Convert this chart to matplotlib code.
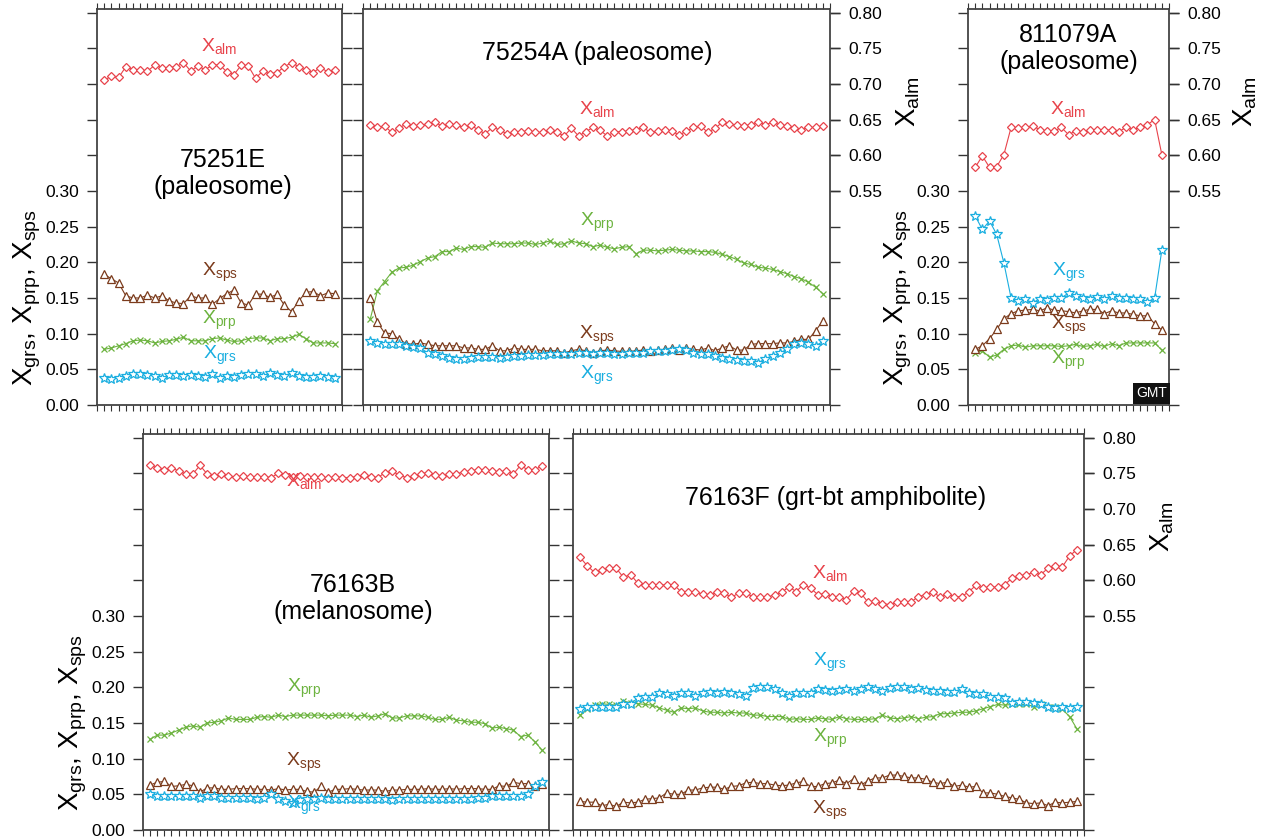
import matplotlib
matplotlib.use('Agg')
from matplotlib import pyplot as plt
from matplotlib import transforms

plt.rcParams['font.family'] = ['Liberation Sans', 'DejaVu Sans']
plt.rcParams['mathtext.fontset'] = 'custom'
plt.rcParams['mathtext.rm'] = 'Liberation Sans'
plt.rcParams['mathtext.it'] = 'Liberation Sans'

C_ALM = '#e8434b'
C_PRP = '#6cb33f'
C_SPS = '#7b3b1c'
C_GRS = '#19aee0'

# 75251E (paleosome)
p1_alm = [0.705, 0.711, 0.709, 0.724, 0.720, 0.719, 0.718, 0.726, 0.723, 0.723, 0.724, 0.730, 0.718,
          0.725, 0.720, 0.726, 0.727, 0.717, 0.713, 0.726, 0.725, 0.708, 0.718, 0.714, 0.716, 0.724,
          0.730, 0.724, 0.719, 0.716, 0.723, 0.717, 0.720]
p1_sps = [0.183, 0.177, 0.171, 0.153, 0.150, 0.150, 0.154, 0.150, 0.153, 0.146, 0.143, 0.142, 0.153,
          0.150, 0.150, 0.141, 0.149, 0.156, 0.161, 0.143, 0.140, 0.156, 0.155, 0.151, 0.155, 0.140,
          0.131, 0.146, 0.158, 0.159, 0.153, 0.157, 0.156]
p1_prp = [0.078, 0.080, 0.083, 0.086, 0.090, 0.091, 0.090, 0.087, 0.089, 0.090, 0.092, 0.095, 0.090,
          0.090, 0.090, 0.093, 0.094, 0.091, 0.089, 0.090, 0.093, 0.094, 0.094, 0.090, 0.093, 0.093,
          0.095, 0.099, 0.093, 0.087, 0.087, 0.087, 0.086]
p1_grs = [0.038, 0.036, 0.038, 0.041, 0.044, 0.043, 0.042, 0.041, 0.038, 0.042, 0.042, 0.041, 0.042,
          0.041, 0.039, 0.043, 0.038, 0.041, 0.039, 0.042, 0.043, 0.044, 0.041, 0.045, 0.042, 0.041,
          0.045, 0.041, 0.039, 0.039, 0.041, 0.039, 0.038]

# 75254A (paleosome)
p2_alm = [0.643, 0.639, 0.641, 0.632, 0.638, 0.644, 0.641, 0.642, 0.644, 0.646, 0.641, 0.644, 0.642,
          0.639, 0.642, 0.636, 0.630, 0.639, 0.636, 0.630, 0.633, 0.633, 0.634, 0.632, 0.632, 0.636,
          0.632, 0.627, 0.638, 0.627, 0.633, 0.639, 0.635, 0.627, 0.633, 0.633, 0.634, 0.636, 0.639,
          0.632, 0.634, 0.635, 0.634, 0.628, 0.634, 0.639, 0.641, 0.632, 0.638, 0.646, 0.644, 0.642,
          0.641, 0.643, 0.647, 0.643, 0.646, 0.643, 0.641, 0.638, 0.636, 0.639, 0.639, 0.641]
p2_prp = [0.120, 0.160, 0.173, 0.186, 0.192, 0.193, 0.196, 0.201, 0.206, 0.208, 0.215, 0.215, 0.220,
          0.218, 0.222, 0.222, 0.221, 0.227, 0.226, 0.226, 0.226, 0.227, 0.227, 0.225, 0.227, 0.230,
          0.225, 0.226, 0.230, 0.227, 0.226, 0.222, 0.224, 0.221, 0.219, 0.221, 0.222, 0.212, 0.217,
          0.217, 0.216, 0.217, 0.218, 0.217, 0.216, 0.216, 0.215, 0.215, 0.214, 0.211, 0.208, 0.204,
          0.199, 0.197, 0.193, 0.192, 0.190, 0.187, 0.184, 0.180, 0.177, 0.172, 0.165, 0.156]
p2_sps = [0.150, 0.116, 0.101, 0.100, 0.092, 0.086, 0.085, 0.087, 0.085, 0.083, 0.083, 0.083, 0.083,
          0.080, 0.080, 0.078, 0.078, 0.083, 0.076, 0.076, 0.080, 0.078, 0.078, 0.078, 0.076, 0.076,
          0.076, 0.073, 0.076, 0.078, 0.076, 0.073, 0.076, 0.077, 0.076, 0.075, 0.075, 0.076, 0.077,
          0.076, 0.077, 0.078, 0.080, 0.077, 0.080, 0.078, 0.077, 0.080, 0.076, 0.080, 0.083, 0.077,
          0.077, 0.085, 0.086, 0.086, 0.086, 0.087, 0.087, 0.089, 0.092, 0.092, 0.104, 0.118]
p2_grs = [0.089, 0.087, 0.086, 0.085, 0.085, 0.083, 0.081, 0.080, 0.073, 0.071, 0.069, 0.066, 0.064,
          0.065, 0.066, 0.067, 0.067, 0.067, 0.066, 0.067, 0.069, 0.069, 0.070, 0.070, 0.070, 0.071,
          0.071, 0.072, 0.072, 0.073, 0.073, 0.072, 0.073, 0.073, 0.072, 0.072, 0.073, 0.073, 0.073,
          0.076, 0.076, 0.076, 0.077, 0.078, 0.077, 0.073, 0.071, 0.071, 0.069, 0.066, 0.065, 0.063,
          0.062, 0.061, 0.059, 0.065, 0.069, 0.073, 0.078, 0.085, 0.087, 0.085, 0.083, 0.089]

# 811079A (paleosome)
p3_alm = [0.583, 0.599, 0.583, 0.584, 0.601, 0.639, 0.638, 0.639, 0.641, 0.636, 0.634, 0.634, 0.639,
          0.629, 0.634, 0.633, 0.636, 0.635, 0.636, 0.635, 0.633, 0.639, 0.636, 0.639, 0.643, 0.650,
          0.601]
p3_grs = [0.265, 0.246, 0.258, 0.239, 0.199, 0.150, 0.146, 0.148, 0.143, 0.149, 0.147, 0.150, 0.150,
          0.157, 0.153, 0.150, 0.149, 0.151, 0.149, 0.153, 0.150, 0.150, 0.149, 0.148, 0.144, 0.150,
          0.217]
p3_sps = [0.078, 0.083, 0.093, 0.106, 0.121, 0.128, 0.132, 0.133, 0.134, 0.132, 0.136, 0.133, 0.132,
          0.131, 0.129, 0.132, 0.134, 0.134, 0.128, 0.132, 0.129, 0.129, 0.127, 0.125, 0.125, 0.114,
          0.105]
p3_prp = [0.073, 0.076, 0.067, 0.070, 0.078, 0.083, 0.084, 0.081, 0.083, 0.083, 0.083, 0.083, 0.082,
          0.083, 0.085, 0.082, 0.083, 0.085, 0.082, 0.086, 0.083, 0.087, 0.087, 0.087, 0.087, 0.087,
          0.077]

# 76163B (melanosome)
p4_alm = [0.762, 0.757, 0.755, 0.758, 0.753, 0.749, 0.749, 0.761, 0.749, 0.746, 0.749, 0.746, 0.745,
          0.746, 0.745, 0.745, 0.745, 0.744, 0.750, 0.748, 0.745, 0.746, 0.745, 0.745, 0.745, 0.743,
          0.745, 0.744, 0.744, 0.745, 0.748, 0.745, 0.744, 0.751, 0.753, 0.747, 0.744, 0.746, 0.749,
          0.751, 0.748, 0.746, 0.749, 0.749, 0.752, 0.753, 0.755, 0.755, 0.753, 0.752, 0.753, 0.749,
          0.761, 0.755, 0.755, 0.760]
p4_prp = [0.127, 0.133, 0.133, 0.136, 0.140, 0.144, 0.146, 0.144, 0.150, 0.151, 0.153, 0.157, 0.155,
          0.155, 0.155, 0.158, 0.159, 0.158, 0.161, 0.159, 0.161, 0.161, 0.161, 0.161, 0.161, 0.160,
          0.161, 0.161, 0.161, 0.159, 0.161, 0.158, 0.160, 0.163, 0.157, 0.157, 0.160, 0.160, 0.160,
          0.158, 0.155, 0.155, 0.158, 0.154, 0.153, 0.151, 0.151, 0.149, 0.143, 0.144, 0.142, 0.140,
          0.131, 0.133, 0.124, 0.112]
p4_sps = [0.063, 0.067, 0.068, 0.061, 0.062, 0.064, 0.062, 0.053, 0.059, 0.059, 0.057, 0.057, 0.058,
          0.058, 0.058, 0.057, 0.057, 0.056, 0.058, 0.056, 0.057, 0.057, 0.054, 0.053, 0.061, 0.053,
          0.057, 0.057, 0.058, 0.057, 0.056, 0.056, 0.056, 0.054, 0.056, 0.056, 0.057, 0.057, 0.057,
          0.058, 0.057, 0.057, 0.058, 0.057, 0.058, 0.058, 0.058, 0.057, 0.057, 0.062, 0.061, 0.067,
          0.065, 0.065, 0.062, 0.064]
p4_grs = [0.050, 0.048, 0.048, 0.047, 0.047, 0.047, 0.047, 0.045, 0.048, 0.047, 0.045, 0.045, 0.045,
          0.045, 0.045, 0.043, 0.045, 0.050, 0.043, 0.040, 0.038, 0.042, 0.044, 0.044, 0.045, 0.044,
          0.043, 0.044, 0.043, 0.044, 0.043, 0.043, 0.044, 0.043, 0.042, 0.043, 0.044, 0.044, 0.043,
          0.043, 0.043, 0.043, 0.044, 0.043, 0.044, 0.044, 0.045, 0.045, 0.047, 0.047, 0.047, 0.047,
          0.048, 0.050, 0.061, 0.067]

# 76163F (grt-bt amphibolite)
p5_alm = [0.632, 0.620, 0.611, 0.614, 0.617, 0.617, 0.604, 0.608, 0.596, 0.593, 0.594, 0.594, 0.593,
          0.594, 0.584, 0.583, 0.583, 0.581, 0.579, 0.583, 0.582, 0.576, 0.582, 0.582, 0.577, 0.577,
          0.576, 0.580, 0.583, 0.591, 0.584, 0.594, 0.589, 0.580, 0.581, 0.577, 0.577, 0.573, 0.585,
          0.582, 0.569, 0.571, 0.567, 0.566, 0.569, 0.570, 0.570, 0.577, 0.580, 0.583, 0.577, 0.581,
          0.577, 0.577, 0.584, 0.593, 0.589, 0.591, 0.590, 0.594, 0.603, 0.606, 0.608, 0.611, 0.608,
          0.617, 0.620, 0.619, 0.634, 0.643]
p5_grs = [0.170, 0.172, 0.173, 0.173, 0.172, 0.172, 0.176, 0.177, 0.185, 0.187, 0.186, 0.192, 0.190,
          0.188, 0.192, 0.192, 0.188, 0.192, 0.193, 0.192, 0.193, 0.192, 0.190, 0.188, 0.199, 0.200,
          0.200, 0.198, 0.192, 0.188, 0.192, 0.192, 0.192, 0.198, 0.196, 0.195, 0.196, 0.198, 0.195,
          0.198, 0.200, 0.198, 0.195, 0.199, 0.200, 0.200, 0.198, 0.199, 0.196, 0.195, 0.195, 0.193,
          0.194, 0.198, 0.192, 0.190, 0.191, 0.187, 0.187, 0.185, 0.178, 0.179, 0.179, 0.178, 0.176,
          0.172, 0.171, 0.172, 0.171, 0.172]
p5_prp = [0.161, 0.170, 0.175, 0.177, 0.176, 0.175, 0.181, 0.178, 0.177, 0.176, 0.175, 0.171, 0.168,
          0.165, 0.171, 0.170, 0.171, 0.167, 0.165, 0.165, 0.164, 0.165, 0.164, 0.164, 0.161, 0.161,
          0.159, 0.159, 0.159, 0.155, 0.156, 0.155, 0.155, 0.157, 0.156, 0.155, 0.159, 0.156, 0.155,
          0.155, 0.155, 0.156, 0.161, 0.157, 0.156, 0.157, 0.159, 0.156, 0.158, 0.159, 0.163, 0.163,
          0.164, 0.165, 0.165, 0.167, 0.170, 0.173, 0.176, 0.175, 0.176, 0.176, 0.176, 0.173, 0.177,
          0.173, 0.172, 0.169, 0.159, 0.142]
p5_sps = [0.040, 0.039, 0.039, 0.034, 0.036, 0.033, 0.039, 0.038, 0.039, 0.043, 0.044, 0.045, 0.052,
          0.050, 0.050, 0.056, 0.056, 0.059, 0.060, 0.060, 0.057, 0.061, 0.062, 0.066, 0.067, 0.065,
          0.065, 0.063, 0.062, 0.063, 0.066, 0.068, 0.061, 0.061, 0.065, 0.066, 0.070, 0.065, 0.072,
          0.063, 0.069, 0.073, 0.073, 0.077, 0.077, 0.075, 0.073, 0.073, 0.071, 0.067, 0.065, 0.067,
          0.061, 0.063, 0.060, 0.061, 0.052, 0.052, 0.050, 0.047, 0.045, 0.043, 0.038, 0.037, 0.038,
          0.034, 0.039, 0.038, 0.039, 0.040]

ALM_OFFSET = 0.25  # right axis (X_alm) is the left axis shifted by 0.25
YMAX = 0.555

fig = plt.figure(figsize=(12.71, 8.39), dpi=100)

W, H = 1271.0, 839.0


def make_ax(x0, x1, y0, y1):
    return fig.add_axes([x0 / W, 1 - y1 / H, (x1 - x0) / W, (y1 - y0) / H])


def style_ax(ax, n, left_labels, right_labels):
    ax.set_xlim(0, n + 1)
    ax.set_ylim(0, YMAX)
    ax.set_xticks(range(0, n + 2))
    ax.set_yticks([i * 0.05 for i in range(12)])
    ax.tick_params(axis='x', which='both', direction='out', length=4, width=0.8,
                   top=True, bottom=True, labelbottom=False, labeltop=False, color='#333333')
    ax.tick_params(axis='y', direction='out', length=7, width=1.0, left=True, right=True,
                   labelleft=False, labelright=False, color='#333333', labelsize=12.5, pad=6)
    for s in ax.spines.values():
        s.set_linewidth(1.3)
        s.set_color('#444444')
    if left_labels:
        ax.set_yticklabels(['%.2f' % (i * 0.05) if i <= 6 else '' for i in range(12)])
        ax.tick_params(axis='y', labelleft=True)
    if right_labels:
        sec = ax.secondary_yaxis('right', functions=(lambda v: v + ALM_OFFSET, lambda v: v - ALM_OFFSET))
        sec.set_yticks([0.55 + 0.05 * i for i in range(6)])
        sec.set_yticklabels(['%.2f' % (0.55 + 0.05 * i) for i in range(6)])
        sec.tick_params(direction='out', length=7, width=1.0, labelsize=12.5, pad=6, color='#333333')
        sec.spines['right'].set_visible(False)


def draw_series(ax, alm, prp, sps, grs):
    ax.plot(range(1, len(alm) + 1), [v - ALM_OFFSET for v in alm], color=C_ALM, lw=0.8, marker='D',
            ms=4.3, mfc='white', mec=C_ALM, mew=0.9)
    ax.plot(range(1, len(prp) + 1), prp, color=C_PRP, lw=0.8, marker='x', ms=4, mew=0.9)
    ax.plot(range(1, len(sps) + 1), sps, color=C_SPS, lw=0.8, marker='^', ms=5.5,
            mfc='white', mec=C_SPS, mew=0.9)
    ax.plot(range(1, len(grs) + 1), grs, color=C_GRS, lw=0.8, marker='*', ms=7.5,
            mfc='white', mec=C_GRS, mew=0.9)


def label(ax, x, y, name, color):
    ax.text(x, y, r'$\mathregular{X_{%s}}$' % name, color=color, fontsize=14, ha='center', va='center')


def left_ylabel(ax, px_left, width_px):
    tr = transforms.blended_transform_factory(ax.transAxes, ax.transData)
    ax.text(-px_left / width_px, 0.15, r'$\mathregular{X_{grs},\,X_{prp},\,X_{sps}}$',
            rotation=90, fontsize=20, ha='center', va='center', transform=tr)


def right_ylabel(ax, px_right, width_px):
    tr = transforms.blended_transform_factory(ax.transAxes, ax.transData)
    ax.text(1 + px_right / width_px, 0.675 - ALM_OFFSET, r'$\mathregular{X_{alm}}$',
            rotation=90, fontsize=20, ha='center', va='center', transform=tr)


# top row
ax1 = make_ax(97, 342, 9, 405)
style_ax(ax1, len(p1_alm), True, False)
draw_series(ax1, p1_alm, p1_prp, p1_sps, p1_grs)
ax1.text(17.5, 0.325, '75251E\n(paleosome)', fontsize=18, ha='center', va='center', linespacing=1.15)
label(ax1, 17, 0.503, 'alm', C_ALM)
label(ax1, 17, 0.186, 'sps', C_SPS)
label(ax1, 17, 0.119, 'prp', C_PRP)
label(ax1, 17, 0.070, 'grs', C_GRS)
left_ylabel(ax1, 70, 245)

ax2 = make_ax(363, 830, 9, 405)
style_ax(ax2, len(p2_alm), False, True)
draw_series(ax2, p2_alm, p2_prp, p2_sps, p2_grs)
ax2.text(32.6, 0.493, '75254A (paleosome)', fontsize=18, ha='center', va='center')
label(ax2, 32.6, 0.415, 'alm', C_ALM)
label(ax2, 32.6, 0.256, 'prp', C_PRP)
label(ax2, 32.6, 0.098, 'sps', C_SPS)
label(ax2, 32.6, 0.042, 'grs', C_GRS)
right_ylabel(ax2, 78, 467)

ax3 = make_ax(968, 1169, 9, 405)
style_ax(ax3, len(p3_alm), True, True)
draw_series(ax3, p3_alm, p3_prp, p3_sps, p3_grs)
ax3.text(14, 0.50, '811079A\n(paleosome)', fontsize=18, ha='center', va='center', linespacing=1.15)
label(ax3, 14, 0.415, 'alm', C_ALM)
label(ax3, 14, 0.186, 'grs', C_GRS)
label(ax3, 14, 0.112, 'sps', C_SPS)
label(ax3, 14, 0.063, 'prp', C_PRP)
left_ylabel(ax3, 70, 201)
right_ylabel(ax3, 76, 201)
# small logo box in the corner
ax3.text(0.99, 0.012, 'GMT', transform=ax3.transAxes, color='white', fontsize=10,
         ha='right', va='bottom', bbox=dict(boxstyle='square,pad=0.25', fc='#111111', ec='none'))

# bottom row
ax4 = make_ax(143, 549, 434, 830)
style_ax(ax4, len(p4_alm), True, False)
draw_series(ax4, p4_alm, p4_prp, p4_sps, p4_grs)
ax4.text(29.5, 0.325, '76163B\n(melanosome)', fontsize=18, ha='center', va='center', linespacing=1.15)
label(ax4, 22.6, 0.489, 'alm', C_ALM)
label(ax4, 22.6, 0.198, 'prp', C_PRP)
label(ax4, 22.6, 0.095, 'sps', C_SPS)
label(ax4, 22.6, 0.035, 'grs', C_GRS)
left_ylabel(ax4, 70, 406)

ax5 = make_ax(573, 1084, 434, 830)
style_ax(ax5, len(p5_alm), False, True)
draw_series(ax5, p5_alm, p5_prp, p5_sps, p5_grs)
ax5.text(36.5, 0.465, '76163F (grt-bt amphibolite)', fontsize=18, ha='center', va='center')
label(ax5, 35.7, 0.360, 'alm', C_ALM)
label(ax5, 35.7, 0.235, 'grs', C_GRS)
label(ax5, 35.7, 0.128, 'prp', C_PRP)
label(ax5, 35.7, 0.028, 'sps', C_SPS)
right_ylabel(ax5, 78, 511)

plt.savefig('out.png', dpi=100)
